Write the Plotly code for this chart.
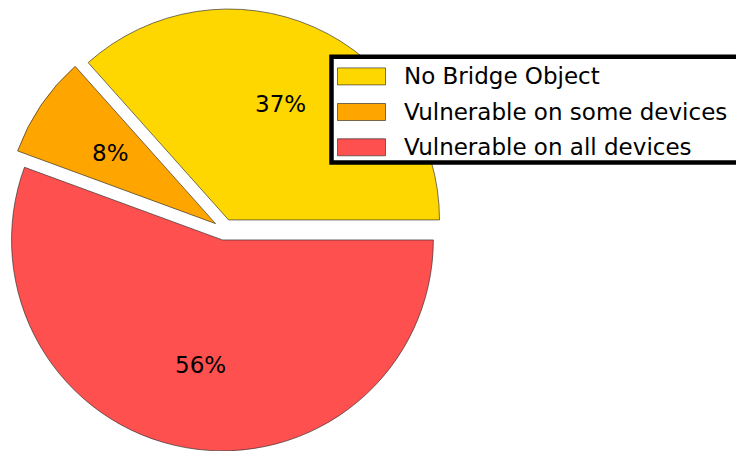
import math
import plotly.graph_objects as go

# ---- data ----
categories = ["No Bridge Object", "Vulnerable on some devices", "Vulnerable on all devices"]
values = [36.6, 7.8, 55.6]
colors = ["#FFD700", "#FFA500", "#FF5050"]
pulls = [0.05, 0.05, 0.05]

W, H = 736, 451
FONT = "DejaVu Sans"
FS = 23

dom_x = [0.0033, 0.6062]
dom_y = [0.0, 0.982]

total = sum(values)
# first wedge starts at 3 o'clock and runs counterclockwise (plotly rotation is clockwise from 12)
rotation = 90 - 360 * values[0] / total

fig = go.Figure(go.Pie(
    labels=categories,
    values=values,
    marker=dict(colors=colors, line=dict(color="rgba(40,40,40,0.8)", width=0.8)),
    pull=pulls,
    sort=False,
    direction="counterclockwise",
    rotation=rotation,
    textinfo="none",
    hoverinfo="label+percent",
    showlegend=False,
    domain=dict(x=dom_x, y=dom_y),
))

# ---- percentage labels (matplotlib-style: pctdistance 0.6 from exploded wedge centre) ----
cx = W * (dom_x[0] + dom_x[1]) / 2
cy = H * (dom_y[0] + dom_y[1]) / 2
maxpull = max(pulls)
r = min(W * (dom_x[1] - dom_x[0]), H * (dom_y[1] - dom_y[0])) / 2 / (1 + maxpull)
annotations = []
start = 0.0
for v, p in zip(values, pulls):
    frac = v / total
    mid = (start + frac / 2) * 2 * math.pi
    start += frac
    d = (p + 0.6) * r
    x = cx + d * math.cos(mid)
    y = cy + d * math.sin(mid)
    annotations.append(dict(
        x=x / W, y=y / H, xref="paper", yref="paper",
        text=f"{round(frac * 100):.0f}%", showarrow=False,
        xanchor="center", yanchor="middle",
        font=dict(family=FONT, size=FS, color="black"),
    ))

# ---- legend drawn manually (matplotlib look) ----
shapes = []
box = dict(x0=331.5, x1=760, y0=56.7, y1=162.5)
shapes.append(dict(type="rect", xref="paper", yref="paper", layer="above",
                   x0=box["x0"] / W, x1=box["x1"] / W,
                   y0=1 - box["y1"] / H, y1=1 - box["y0"] / H,
                   line=dict(color="black", width=4.5), fillcolor="white"))
row_centers = [76.4, 112.0, 147.3]
for cat, col, yc in zip(categories, colors, row_centers):
    shapes.append(dict(type="rect", xref="paper", yref="paper", layer="above",
                       x0=337.5 / W, x1=385.5 / W,
                       y0=1 - (yc + 8.5) / H, y1=1 - (yc - 8.5) / H,
                       line=dict(color="rgba(40,40,40,0.8)", width=0.8), fillcolor=col))
    annotations.append(dict(
        x=402 / W, y=1 - yc / H, xref="paper", yref="paper",
        text=cat, showarrow=False, xanchor="left", yanchor="middle",
        font=dict(family=FONT, size=FS, color="black"),
    ))

fig.update_layout(
    width=W, height=H,
    margin=dict(l=0, r=0, t=0, b=0),
    paper_bgcolor="white", plot_bgcolor="white",
    shapes=shapes, annotations=annotations,
    font=dict(family=FONT),
)

fig.write_html("out.html", config={"displayModeBar": False},
               post_script="document.body.style.margin='0';")
